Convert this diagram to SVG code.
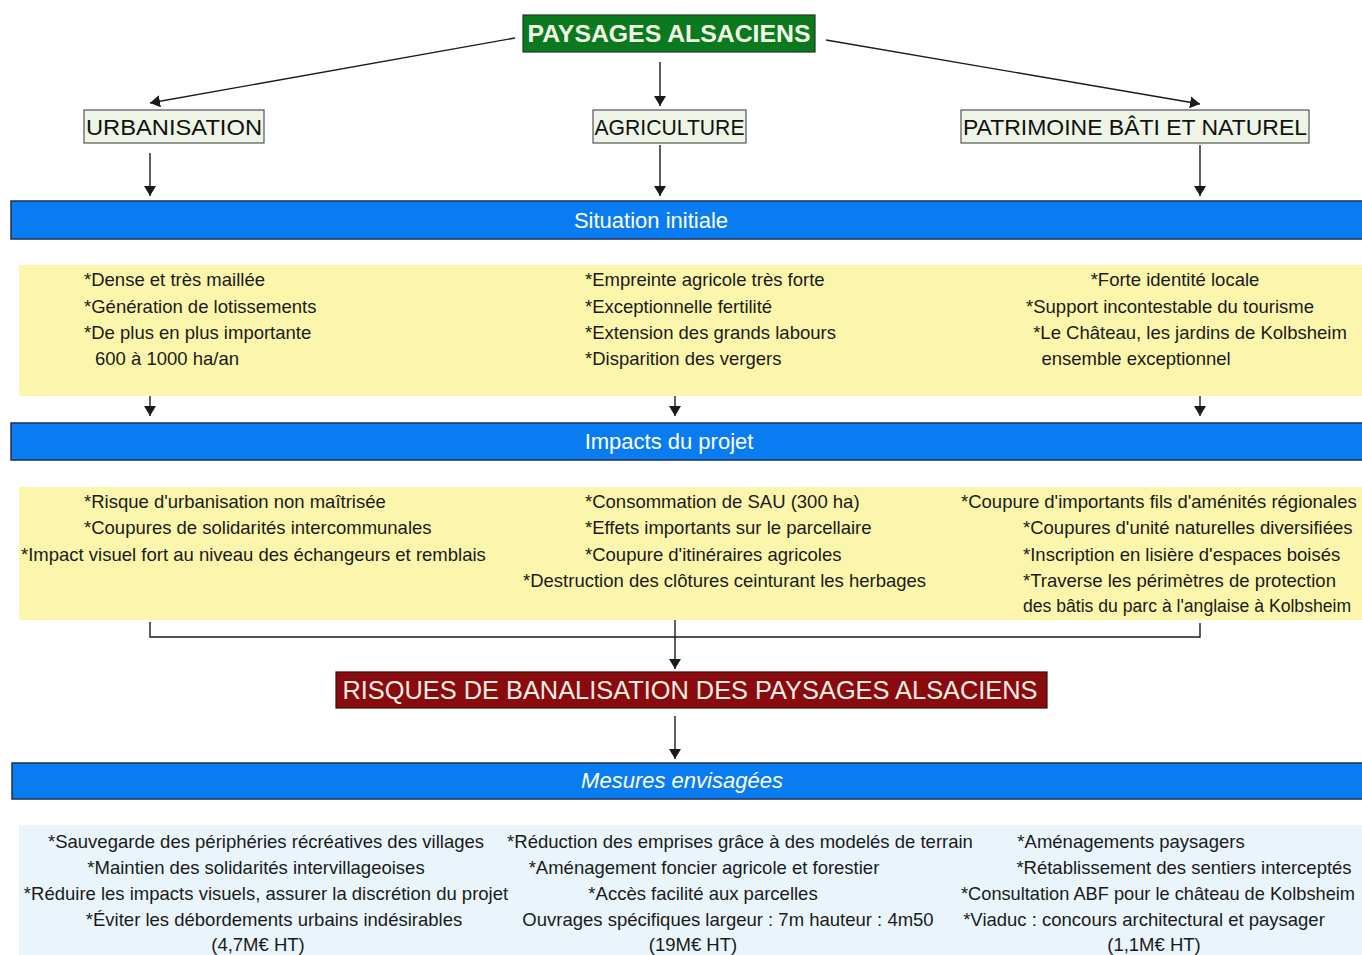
<svg xmlns="http://www.w3.org/2000/svg" width="1362" height="955" viewBox="0 0 1362 955">
<defs>
<marker id="ah" viewBox="0 0 10 12" refX="10" refY="6" markerWidth="10" markerHeight="12" markerUnits="userSpaceOnUse" orient="auto">
<path d="M0,0 L10,6 L0,12 Z" fill="#1a1a1a"/>
</marker>
<style>
text{font-family:"Liberation Sans","DejaVu Sans",sans-serif}
.t{font-size:18.5px;fill:#1a1a1a}
.tm{text-anchor:middle}
.band{fill:#0a7cf2;stroke:#1c2f5a;stroke-width:1.5}
.bandt{font-size:22px;fill:#ffffff;text-anchor:middle}
.sub{fill:#eef4e6;stroke:#555;stroke-width:1.2}
.subt{font-size:22px;fill:#111;text-anchor:middle}
.yel{fill:#fbf6ac}
.blu{fill:#e9f5fb}
.c{fill:none;stroke:#1a1a1a;stroke-width:1.4}
.ca{fill:none;stroke:#1a1a1a;stroke-width:1.4;marker-end:url(#ah)}
</style>
</defs>
<rect width="1362" height="955" fill="#ffffff"/>

<g id="connectors">
<line class="ca" x1="515" y1="38" x2="150" y2="103"/>
<line class="ca" x1="660" y1="62" x2="660" y2="106"/>
<line class="ca" x1="826" y1="40" x2="1200" y2="104"/>
<line class="ca" x1="150" y1="153" x2="150" y2="196"/>
<line class="ca" x1="660" y1="145" x2="660" y2="196"/>
<line class="ca" x1="1200" y1="145" x2="1200" y2="196"/>
<line class="ca" x1="150" y1="382" x2="150" y2="416"/>
<line class="ca" x1="675" y1="382" x2="675" y2="416"/>
<line class="ca" x1="1200" y1="382" x2="1200" y2="416"/>
<polyline class="c" points="150,622 150,637 1200,637 1200,623"/>
<line class="ca" x1="675" y1="604" x2="675" y2="669"/>
<line class="ca" x1="675" y1="716" x2="675" y2="759"/>
</g>

<g id="title">
<rect x="523" y="15" width="292" height="37" fill="#0b7a1f" stroke="#1d3a1d" stroke-width="1.2"/>
<text x="669" y="42" font-size="24.5" font-weight="bold" fill="#f2f9e6" text-anchor="middle" textLength="283" lengthAdjust="spacingAndGlyphs">PAYSAGES ALSACIENS</text>
</g>

<g id="urbanisation">
<rect class="sub" x="84" y="110" width="180" height="33"/>
<text class="subt" x="174" y="134.5" textLength="176" lengthAdjust="spacingAndGlyphs">URBANISATION</text>
</g>
<g id="agriculture">
<rect class="sub" x="593" y="110" width="153" height="33"/>
<text class="subt" x="669.5" y="134.5" textLength="150" lengthAdjust="spacingAndGlyphs">AGRICULTURE</text>
</g>
<g id="patrimoine">
<rect class="sub" x="961" y="110" width="348" height="33"/>
<text class="subt" x="1135" y="134.5" textLength="344" lengthAdjust="spacingAndGlyphs">PATRIMOINE BÂTI ET NATUREL</text>
</g>

<g id="situation-initiale">
<rect class="band" x="11" y="201" width="1355" height="38"/>
<text class="bandt" x="651" y="228">Situation initiale</text>
</g>

<g id="situation-details">
<rect class="yel" x="19" y="265" width="1343" height="131"/>
<text class="t" x="84" y="286">*Dense et très maillée</text>
<text class="t" x="84" y="313">*Génération de lotissements</text>
<text class="t" x="84" y="339">*De plus en plus importante</text>
<text class="t" x="95" y="365">600 à 1000 ha/an</text>
<text class="t" x="585" y="286">*Empreinte agricole très forte</text>
<text class="t" x="585" y="313">*Exceptionnelle fertilité</text>
<text class="t" x="585" y="339">*Extension des grands labours</text>
<text class="t" x="585" y="365">*Disparition des vergers</text>
<text class="t tm" x="1175" y="286">*Forte identité locale</text>
<text class="t tm" x="1170" y="313">*Support incontestable du tourisme</text>
<text class="t tm" x="1190" y="339">*Le Château, les jardins de Kolbsheim</text>
<text class="t tm" x="1136" y="365">ensemble exceptionnel</text>
</g>

<g id="impacts-du-projet">
<rect class="band" x="11" y="423" width="1355" height="37"/>
<text class="bandt" x="669" y="449">Impacts du projet</text>
</g>

<g id="impacts-details">
<rect class="yel" x="19" y="487" width="1343" height="133"/>
<text class="t" x="84" y="508">*Risque d'urbanisation non maîtrisée</text>
<text class="t" x="84" y="534">*Coupures de solidarités intercommunales</text>
<text class="t" x="21" y="561">*Impact visuel fort au niveau des échangeurs et remblais</text>
<text class="t" x="585" y="508">*Consommation de SAU (300 ha)</text>
<text class="t" x="585" y="534">*Effets importants sur le parcellaire</text>
<text class="t" x="585" y="561">*Coupure d'itinéraires agricoles</text>
<text class="t" x="523" y="587">*Destruction des clôtures ceinturant les herbages</text>
<text class="t" x="961" y="508" font-size="18.3">*Coupure d'importants fils d'aménités régionales</text>
<text class="t" x="1023" y="534">*Coupures d'unité naturelles diversifiées</text>
<text class="t" x="1023" y="561">*Inscription en lisière d'espaces boisés</text>
<text class="t" x="1023" y="587">*Traverse les périmètres de protection</text>
<text class="t" x="1023" y="612" style="font-size:17.6px">des bâtis du parc à l'anglaise à Kolbsheim</text>
</g>

<g id="risques">
<rect x="336" y="672" width="711" height="36" fill="#8a0b0d" stroke="#3a0a0a" stroke-width="1.2"/>
<text x="690" y="699" font-size="25.5" fill="#f6eee6" text-anchor="middle" textLength="695" lengthAdjust="spacingAndGlyphs">RISQUES DE BANALISATION DES PAYSAGES ALSACIENS</text>
</g>

<g id="mesures-envisagees">
<rect class="band" x="12" y="763" width="1354" height="36"/>
<text class="bandt" x="682" y="788" font-size="20" font-style="italic">Mesures envisagées</text>
</g>

<g id="mesures-details">
<rect class="blu" x="19" y="825" width="1343" height="130"/>
<text class="t tm" x="266" y="848">*Sauvegarde des périphéries récréatives des villages</text>
<text class="t tm" x="256" y="874">*Maintien des solidarités intervillageoises</text>
<text class="t tm" x="266" y="900">*Réduire les impacts visuels, assurer la discrétion du projet</text>
<text class="t tm" x="274" y="926">*Éviter les débordements urbains indésirables</text>
<text class="t tm" x="258" y="951">(4,7M€ HT)</text>
<text class="t tm" x="740" y="848">*Réduction des emprises grâce à des modelés de terrain</text>
<text class="t tm" x="704" y="874">*Aménagement foncier agricole et forestier</text>
<text class="t tm" x="703" y="900">*Accès facilité aux parcelles</text>
<text class="t tm" x="728" y="926">Ouvrages spécifiques largeur : 7m hauteur : 4m50</text>
<text class="t tm" x="693" y="951">(19M€ HT)</text>
<text class="t tm" x="1131" y="848">*Aménagements paysagers</text>
<text class="t tm" x="1184" y="874">*Rétablissement des sentiers interceptés</text>
<text class="t tm" x="1158" y="900" textLength="394" lengthAdjust="spacingAndGlyphs">*Consultation ABF pour le château de Kolbsheim</text>
<text class="t tm" x="1144" y="926">*Viaduc : concours architectural et paysager</text>
<text class="t tm" x="1154" y="951">(1,1M€ HT)</text>
</g>
</svg>
